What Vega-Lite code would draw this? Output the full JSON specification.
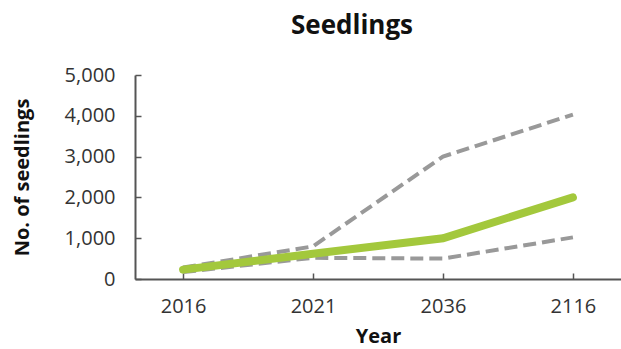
{
  "$schema": "https://vega.github.io/schema/vega-lite/v6.json",
  "autosize": "none",
  "width": 486,
  "height": 204,
  "padding": {"left": 135, "top": 75, "right": 0, "bottom": 70},
  "background": "white",
  "title": {
    "text": "Seedlings",
    "font": "Open Sans",
    "fontSize": 26,
    "fontWeight": "bold",
    "color": "#111111",
    "anchor": "middle",
    "frame": "group",
    "dx": -26,
    "offset": 26
  },
  "data": {
    "values": [
      {"year": "2016", "series": "upper", "value": 280},
      {"year": "2021", "series": "upper", "value": 800},
      {"year": "2036", "series": "upper", "value": 3000},
      {"year": "2116", "series": "upper", "value": 4030},
      {"year": "2016", "series": "lower", "value": 170},
      {"year": "2021", "series": "lower", "value": 520},
      {"year": "2036", "series": "lower", "value": 500},
      {"year": "2116", "series": "lower", "value": 1020},
      {"year": "2016", "series": "mean", "value": 230},
      {"year": "2021", "series": "mean", "value": 620},
      {"year": "2036", "series": "mean", "value": 1000},
      {"year": "2116", "series": "mean", "value": 2000}
    ]
  },
  "config": {
    "view": {"stroke": null},
    "axis": {
      "grid": false,
      "domainColor": "#555555",
      "domainWidth": 2,
      "tickColor": "#555555",
      "tickWidth": 1.5,
      "tickSize": -6,
      "labelFont": "Open Sans",
      "labelFontSize": 20,
      "labelColor": "#333333",
      "titleFont": "Open Sans",
      "titleFontSize": 20,
      "titleFontWeight": "bold",
      "titleColor": "#111111"
    }
  },
  "encoding": {
    "x": {
      "field": "year",
      "type": "ordinal",
      "sort": ["2016", "2021", "2036", "2116"],
      "scale": {"type": "point", "padding": 0.37},
      "axis": {"title": "Year", "labelAngle": 0, "labelPadding": 23, "titlePadding": 10}
    },
    "y": {
      "field": "value",
      "type": "quantitative",
      "scale": {"domain": [0, 5000], "nice": false},
      "axis": {"title": "No. of seedlings", "values": [0, 1000, 2000, 3000, 4000, 5000], "format": ",d", "labelPadding": 26, "titlePadding": 32}
    }
  },
  "layer": [
    {
      "transform": [{"filter": "datum.series !== 'mean'"}],
      "mark": {"type": "line", "color": "#999999", "strokeWidth": 4, "strokeDash": [13, 6]},
      "encoding": {"detail": {"field": "series"}}
    },
    {
      "transform": [{"filter": "datum.series === 'mean'"}],
      "mark": {"type": "line", "color": "#a3c83c", "strokeWidth": 8, "strokeCap": "round"},
      "encoding": {}
    }
  ]
}
